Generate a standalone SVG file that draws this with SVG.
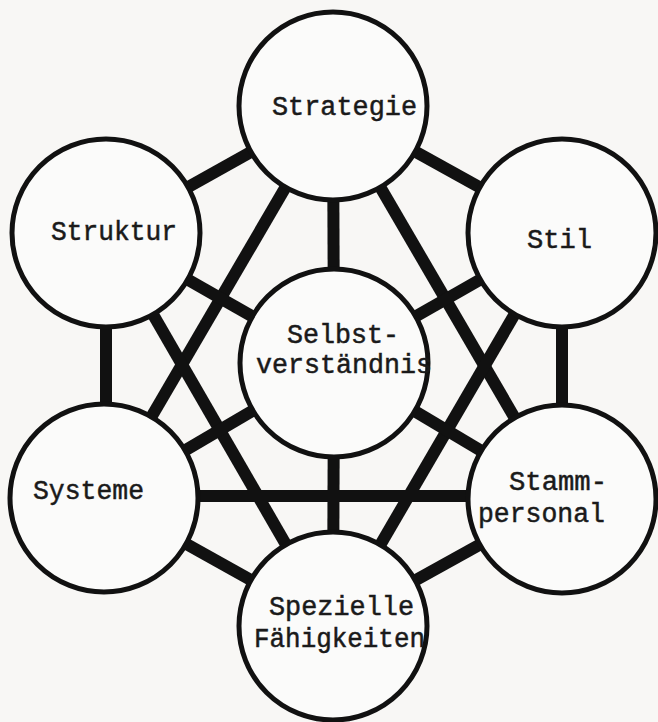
<svg xmlns="http://www.w3.org/2000/svg" width="658" height="722" viewBox="0 0 658 722">
<style>
.bg{fill:#f8f7f5}
.c{fill:#fbfbfa;stroke:#111;stroke-width:5}
.l{stroke:#111;stroke-width:12;stroke-linecap:butt}
.t{font-family:"Liberation Mono","DejaVu Sans Mono",monospace;font-size:27px;fill:#1a1a1a;stroke:#1a1a1a;stroke-width:0.5}
</style>
<rect class="bg" x="0" y="0" width="658" height="722"/>
<g id="connectors">
<line class="l" x1="333" y1="106" x2="106" y2="233"/>
<line class="l" x1="333" y1="106" x2="562" y2="233"/>
<line class="l" x1="333" y1="106" x2="334" y2="363"/>
<line class="l" x1="333" y1="106" x2="104" y2="498"/>
<line class="l" x1="333" y1="106" x2="562" y2="499"/>
<line class="l" x1="106" y1="233" x2="334" y2="363"/>
<line class="l" x1="106" y1="233" x2="106" y2="498"/>
<line class="l" x1="106" y1="233" x2="333" y2="626"/>
<line class="l" x1="562" y1="233" x2="334" y2="363"/>
<line class="l" x1="562" y1="233" x2="562" y2="499"/>
<line class="l" x1="562" y1="233" x2="333" y2="626"/>
<line class="l" x1="334" y1="363" x2="104" y2="498"/>
<line class="l" x1="334" y1="363" x2="562" y2="499"/>
<line class="l" x1="334" y1="363" x2="333" y2="626"/>
<line class="l" x1="104" y1="496" x2="562" y2="496"/>
<line class="l" x1="104" y1="498" x2="333" y2="626"/>
<line class="l" x1="562" y1="499" x2="333" y2="626"/>
</g>
<g id="strategie"><circle class="c" cx="333" cy="106" r="94"/><text class="t" x="272" y="115" textLength="145" lengthAdjust="spacingAndGlyphs">Strategie</text></g>
<g id="struktur"><circle class="c" cx="106" cy="233" r="94"/><text class="t" x="51" y="240" textLength="126" lengthAdjust="spacingAndGlyphs">Struktur</text></g>
<g id="stil"><circle class="c" cx="562" cy="233" r="94"/><text class="t" x="527" y="248" textLength="65" lengthAdjust="spacingAndGlyphs">Stil</text></g>
<g id="selbstverstaendnis"><circle class="c" cx="334" cy="363" r="94"/><text class="t" x="287" y="343" textLength="112" lengthAdjust="spacingAndGlyphs">Selbst-</text><text class="t" x="256" y="373" textLength="176" lengthAdjust="spacingAndGlyphs">verständnis</text></g>
<g id="systeme"><circle class="c" cx="104" cy="498" r="94"/><text class="t" x="33" y="499" textLength="111" lengthAdjust="spacingAndGlyphs">Systeme</text></g>
<g id="stammpersonal"><circle class="c" cx="562" cy="499" r="94"/><text class="t" x="509" y="490" textLength="98" lengthAdjust="spacingAndGlyphs">Stamm-</text><text class="t" x="478" y="522" textLength="127" lengthAdjust="spacingAndGlyphs">personal</text></g>
<g id="spezielle"><circle class="c" cx="333" cy="626" r="94"/><text class="t" x="269" y="615" textLength="145" lengthAdjust="spacingAndGlyphs">Spezielle</text><text class="t" x="254" y="647" textLength="171" lengthAdjust="spacingAndGlyphs">Fähigkeiten</text></g>
</svg>
